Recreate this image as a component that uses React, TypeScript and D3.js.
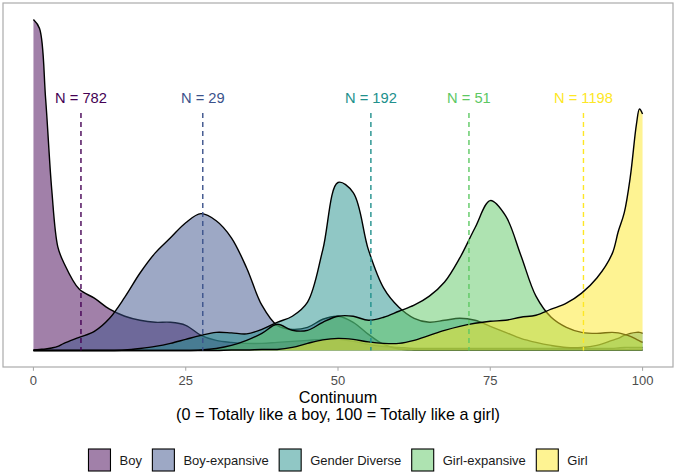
import React, { useEffect, useRef } from "react";
import * as d3 from "d3";

// groups in drawing order
const groups = ["Boy", "Boy-expansive", "Gender Diverse", "Girl-expansive", "Girl"];
const groupColors = ["#440154", "#3B528B", "#21908C", "#5DC863", "#FDE725"];
const groupCounts = [782, 29, 192, 51, 1198];
const groupMeans = [7.8, 27.8, 55.4, 71.5, 90.3];

// density estimates
const xGrid = [
  0, 1, 2, 3, 4, 5, 7.5, 10, 12.5, 15, 17.5, 20, 22.5, 25, 27.5, 30, 32.5, 35, 37.5, 40,
  42.5, 45, 47.5, 50, 52.5, 55, 57.5, 60, 62.5, 65, 67.5, 70, 72.5, 75, 77.5, 80, 82.5,
  85, 87.5, 90, 92.5, 95, 96, 97, 98, 99, 99.5, 100,
];
const boyDensity = [
  0.0658, 0.064, 0.05, 0.032, 0.0206, 0.0174, 0.0122, 0.0104, 0.0082, 0.0068, 0.006,
  0.0056, 0.0056, 0.005, 0.003, 0.002, 0.0016, 0.0014, 0.0014, 0.0016, 0.0018, 0.002,
  0.0022, 0.0022, 0.0018, 0.0012, 0.0008, 0.0006, 0.0004, 0.0004, 0.0004, 0.0004,
  0.0004, 0.0004, 0.0004, 0.0004, 0.0004, 0.0004, 0.0004, 0.0004, 0.0004, 0.0004,
  0.0005, 0.0006, 0.0006, 0.0006, 0.0006, 0.0006,
];
const boyExpansiveDensity = [
  0.0001, 0.0002, 0.0003, 0.0005, 0.0008, 0.0014, 0.0026, 0.0038, 0.0064, 0.0106,
  0.0154, 0.0194, 0.0224, 0.0254, 0.0272, 0.0258, 0.0224, 0.0164, 0.009, 0.005, 0.0042,
  0.0046, 0.0062, 0.0068, 0.0056, 0.0032, 0.0012, 0.0003, 0.0001, 0.0001, 0.0001,
  0.0001, 0.0001, 0.0001, 0.0001, 0.0001, 0.0001, 0.0001, 0.0001, 0.0001, 0.0001,
  0.0001, 0.0001, 0.0001, 0.0001, 0.0001, 0.0001, 0.0001,
];
const genderDiverseDensity = [
  0, 0, 0, 0, 0, 0, 0, 0, 0, 0.0001, 0.0004, 0.0008, 0.0014, 0.0022, 0.003, 0.0036,
  0.0035, 0.0033, 0.0042, 0.0056, 0.0068, 0.0096, 0.02, 0.0334, 0.0314, 0.02, 0.0124,
  0.0086, 0.0064, 0.0056, 0.006, 0.0064, 0.006, 0.0048, 0.0036, 0.0024, 0.0016, 0.001,
  0.0006, 0.0006, 0.001, 0.002, 0.0024, 0.003, 0.0034, 0.0036, 0.0036, 0.0034,
];
const girlExpansiveDensity = [
  0, 0, 0, 0, 0, 0, 0, 0, 0, 0, 0, 0, 0, 0, 0.0001, 0.0004, 0.001, 0.002, 0.0034,
  0.0052, 0.004, 0.004, 0.0056, 0.0068, 0.0068, 0.006, 0.0066, 0.0078, 0.009, 0.0108,
  0.0136, 0.0184, 0.0244, 0.0298, 0.0268, 0.019, 0.0108, 0.0066, 0.0046, 0.0036,
  0.0034, 0.0036, 0.0035, 0.0032, 0.0028, 0.0022, 0.0019, 0.0016,
];
const girlDensity = [
  0, 0, 0, 0, 0, 0, 0, 0, 0, 0, 0, 0, 0, 0, 0, 0, 0.0001, 0.0001, 0.0002, 0.0002,
  0.0006, 0.0014, 0.0021, 0.0024, 0.0022, 0.0017, 0.0014, 0.0014, 0.002, 0.003, 0.004,
  0.0048, 0.0054, 0.0058, 0.006, 0.0066, 0.007, 0.0082, 0.0094, 0.0114, 0.0144, 0.0192,
  0.0236, 0.0274, 0.0346, 0.045, 0.048, 0.047,
];
const densities = [
  boyDensity,
  boyExpansiveDensity,
  genderDiverseDensity,
  girlExpansiveDensity,
  girlDensity,
];

const xTicks = [0, 25, 50, 75, 100];
const xTitle = ["Continuum", "(0 = Totally like a boy, 100 = Totally like a girl)"];

const width = 677;
const height = 475;
const panel = { left: 3, right: 673, top: 3, bottom: 367 };
const font = "'Liberation Sans', Arial, sans-serif";
const lineTop = 0.0472; // where the dashed mean lines stop
const labelY = 0.0493; // baseline of the N labels

const App: React.FC = () => {
  const svgRef = useRef<SVGSVGElement | null>(null);

  useEffect(() => {
    document.body.style.margin = "0";
    const svg = d3.select(svgRef.current);
    svg.selectAll("*").remove();

    const yMax = d3.max(densities.flat()) as number;
    const x = d3.scaleLinear().domain([-5, 105]).range([panel.left, panel.right]);
    const y = d3
      .scaleLinear()
      .domain([-0.05 * yMax, 1.05 * yMax])
      .range([panel.bottom, panel.top]);

    svg
      .append("rect")
      .attr("width", width)
      .attr("height", height)
      .attr("fill", "#fff");

    const area = d3
      .area<number>()
      .x((_, i) => x(xGrid[i]))
      .y0(y(0))
      .y1((d) => y(d))
      .curve(d3.curveCatmullRom.alpha(0.5));
    const line = d3
      .line<number>()
      .x((_, i) => x(xGrid[i]))
      .y((d) => y(d))
      .curve(d3.curveCatmullRom.alpha(0.5));

    const plot = svg.append("g");
    densities.forEach((dens, i) => {
      plot
        .append("path")
        .attr("d", area(dens) as string)
        .attr("fill", groupColors[i])
        .attr("fill-opacity", 0.5);
      plot
        .append("path")
        .attr("d", line(dens) as string)
        .attr("fill", "none")
        .attr("stroke", "#000")
        .attr("stroke-width", 1.4);
    });

    // mean lines + N labels
    groups.forEach((g, i) => {
      plot
        .append("line")
        .attr("x1", x(groupMeans[i]))
        .attr("x2", x(groupMeans[i]))
        .attr("y1", y(lineTop))
        .attr("y2", y(0))
        .attr("stroke", groupColors[i])
        .attr("stroke-width", 1.4)
        .attr("stroke-dasharray", "5,4");
      plot
        .append("text")
        .attr("x", x(groupMeans[i]))
        .attr("y", y(labelY))
        .attr("text-anchor", "middle")
        .style("font-family", font)
        .style("font-size", "14.7px")
        .attr("fill", groupColors[i])
        .text(`N = ${groupCounts[i]}`);
    });

    // panel border
    svg
      .append("rect")
      .attr("x", panel.left)
      .attr("y", panel.top)
      .attr("width", panel.right - panel.left)
      .attr("height", panel.bottom - panel.top)
      .attr("fill", "none")
      .attr("stroke", "#ababab")
      .attr("stroke-width", 1.2);

    // x axis
    const axis = svg.append("g");
    xTicks.forEach((t) => {
      axis
        .append("line")
        .attr("x1", x(t))
        .attr("x2", x(t))
        .attr("y1", panel.bottom)
        .attr("y2", panel.bottom + 3.8)
        .attr("stroke", "#ababab")
        .attr("stroke-width", 1.1);
      axis
        .append("text")
        .attr("x", x(t))
        .attr("y", 384.5)
        .attr("text-anchor", "middle")
        .style("font-family", font)
        .style("font-size", "13px")
        .attr("fill", "#4d4d4d")
        .text(t);
    });
    const cx = (panel.left + panel.right) / 2;
    xTitle.forEach((s, i) => {
      svg
        .append("text")
        .attr("x", cx)
        .attr("y", 403 + i * 16.5)
        .attr("text-anchor", "middle")
        .style("font-family", font)
        .style("font-size", "16.2px")
        .attr("fill", "#000")
        .text(s);
    });

    // legend
    const legend = svg.append("g");
    const box = 22;
    const items = groups.map((g, i) => {
      const item = legend.append("g");
      item
        .append("rect")
        .attr("width", box)
        .attr("height", box)
        .attr("fill", groupColors[i])
        .attr("fill-opacity", 0.5)
        .attr("stroke", "#000")
        .attr("stroke-width", 1.1);
      const txt = item
        .append("text")
        .attr("x", box + 9)
        .attr("y", box / 2 + 4.6)
        .style("font-family", font)
        .style("font-size", "13px")
        .attr("fill", "#1a1a1a")
        .text(g);
      const w = (txt.node() as SVGTextElement).getComputedTextLength();
      return { item, w: box + 9 + w };
    });
    const spacing = 10.5;
    const total = d3.sum(items, (d) => d.w) + spacing * (items.length - 1);
    let pos = cx - total / 2;
    items.forEach((d) => {
      d.item.attr("transform", `translate(${pos}, 449)`);
      pos += d.w + spacing;
    });
  }, []);

  return <svg ref={svgRef} width={width} height={height} style={{ display: "block" }} />;
};

export default App;
